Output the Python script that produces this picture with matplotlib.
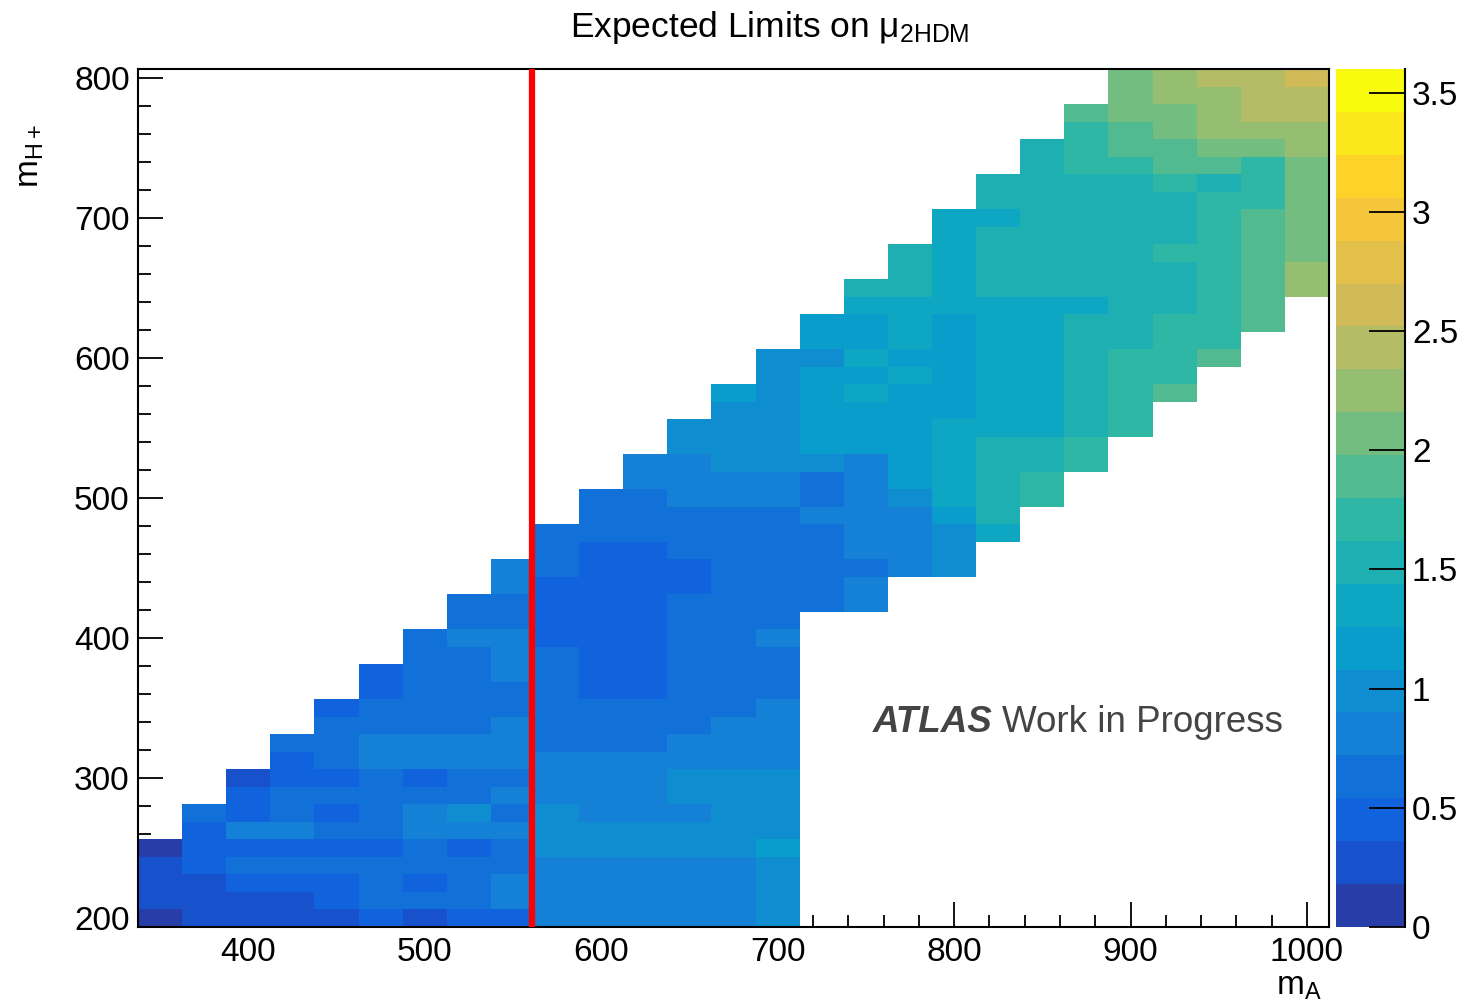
import numpy as np
import matplotlib
matplotlib.use("Agg")
import matplotlib.pyplot as plt
from matplotlib.colors import LinearSegmentedColormap, ListedColormap, BoundaryNorm
from matplotlib.ticker import MultipleLocator, FuncFormatter

plt.rcParams['font.family'] = ['Liberation Sans', 'DejaVu Sans']
plt.rcParams['mathtext.default'] = 'regular'

# m_A bin centres (GeV), one column each
mA = [350, 375, 400, 425, 450, 475, 500, 525, 550, 575, 600, 625, 650, 675,
      700, 725, 750, 775, 800, 825, 850, 875, 900, 925, 950, 975, 1000]
# lowest filled m_H+ bin centre in each column
mH_start = [200, 200, 200, 200, 200, 200, 200, 200, 200, 200, 200, 200, 200, 200,
            200, 425, 425, 450, 450, 475, 500, 525, 550, 575, 600, 625, 650]
# limit band, bottom -> top, one char per 12.5 GeV bin in m_H+
mu_codes = [
    "01110",
    "1112223",
    "112324221",
    "11232433223",
    "1223232323332",
    "233323333443322",
    "13233443244333333",
    "2333245334433333433",
    "244334343444334443344",
    "4444555444333" + "3332222333",
    "4444554444333" + "222222222333",
    "4444554444333" + "22222222233344",
    "4444554554433" + "3333332233344455",
    "4444555554443" + "33333333333" + "44" + "55556",
    "5555655554444" + "3334" + "3333333" + "44" + "5555555",
    "33333433566666566",
    "4434444446667676678",
    "4444566666676777888",
    "555" + "6" + "77777" + "666666" + "777777",
    "7" + "88888" + "77777777" + "8888" + "7" + "88",
    "99" + "88" + "77777777" + "888888888",
    "99" + "8888888" + "7" + "8888888" + "999" + "a",
    "99999" + "888" + "8888888" + "9" + "aa" + "bbb",
    "a" + "9999" + "888" + "9" + "888" + "9" + "aa" + "bb" + "cc",
    "a" + "999999999" + "8" + "a" + "b" + "ccc" + "d",
    "aaaaaaa" + "999" + "b" + "c" + "ddd",
    "cc" + "bbbbbb" + "cc" + "dd" + "e",
]
# mu value at the middle of each colour band
mu_levels = [0.09, 0.27, 0.45, 0.63, 0.81, 0.99, 1.17, 1.35, 1.53, 1.71,
             1.89, 2.07, 2.25, 2.43, 2.61]
mu_ticks = [0, 0.5, 1, 1.5, 2, 2.5, 3, 3.5]
line_mA = 561

# ROOT kBird palette, 20 contours
stops = [0.0, 0.125, 0.25, 0.375, 0.5, 0.625, 0.75, 0.875, 1.0]
red = [0.2082, 0.0592, 0.0780, 0.0232, 0.1802, 0.5301, 0.8186, 0.9956, 0.9764]
green = [0.1664, 0.3599, 0.5041, 0.6419, 0.7178, 0.7492, 0.7328, 0.7862, 0.9832]
blue = [0.5293, 0.8684, 0.8385, 0.7914, 0.6425, 0.4662, 0.3499, 0.1968, 0.0539]
bird = LinearSegmentedColormap.from_list(
    'bird', list(zip(stops, zip(red, green, blue))), N=255)
ncont = 20
cmap = ListedColormap([bird((k + 0.99) / ncont) for k in range(ncont)])
bounds = np.linspace(0, 3.6, ncont + 1)
norm = BoundaryNorm(bounds, ncont)

x_edges = np.arange(337.5, 1012.6, 25)
y_edges = np.arange(193.75, 806.3, 12.5)
Z = np.full((len(y_edges) - 1, len(x_edges) - 1), np.nan)
for i, (start, codes) in enumerate(zip(mH_start, mu_codes)):
    j0 = int(round((start - 200) / 12.5))
    for k, c in enumerate(codes[:len(y_edges) - 1 - j0]):
        Z[j0 + k, i] = mu_levels[int(c, 16)]

fig = plt.figure(figsize=(14.81, 10.02), dpi=100)
ax = fig.add_axes([0.0932, 0.0749, 0.8042, 0.8562])
cax = fig.add_axes([0.9021, 0.0749, 0.0466, 0.8562])

mesh = ax.pcolormesh(x_edges, y_edges, np.ma.masked_invalid(Z), cmap=cmap,
                     norm=norm, shading='flat', antialiased=False, edgecolors='none')
ax.axvline(line_mA, color='#ff0000', lw=4.5, zorder=3)

ax.set_xlim(337.5, 1012.5)
ax.set_ylim(193.75, 806.25)
ax.xaxis.set_major_locator(MultipleLocator(100))
ax.xaxis.set_minor_locator(MultipleLocator(20))
ax.yaxis.set_major_locator(MultipleLocator(100))
ax.yaxis.set_minor_locator(MultipleLocator(20))
ax.set_axisbelow(True)
ax.tick_params(which='both', direction='in', top=False, right=False,
               labelsize=24, colors='black')
ax.tick_params(which='major', length=18, width=1.3)
ax.tick_params(which='minor', length=9, width=1.3)
ax.tick_params(axis='x', pad=7)
ax.tick_params(axis='y', pad=6)
for s in ax.spines.values():
    s.set_linewidth(1.5)

# colour bar
cb = fig.colorbar(mesh, cax=cax)
cb.outline.set_visible(False)
cb.set_ticks(mu_ticks)
cb.ax.yaxis.set_major_formatter(FuncFormatter(lambda v, p: f"{v:g}"))
cb.ax.minorticks_off()
cb.ax.tick_params(direction='in', length=26, width=1.3, labelsize=24, pad=5,
                  right=True, left=False)
cax.plot([1, 1], [0, 1], transform=cax.transAxes, color='black', lw=1.5,
         clip_on=False)

# labels
fig.text(0.52, 1 - 37 / 1002, r"Expected Limits on μ$_{2HDM}$", ha='center',
         va='baseline', fontsize=25.5)
fig.text(1322 / 1481, 1 - 995 / 1002, r"m$_{A}$", ha='right', va='baseline',
         fontsize=24)
fig.text(46 / 1481, 1 - 124 / 1002, r"m$_{H+}$", ha='right', va='top',
         rotation=90, fontsize=24)

atlas = ax.text(754, 333, "ATLAS", fontsize=26.5, fontweight='bold',
                fontstyle='italic', color='#444444', ha='left', va='baseline')
ax.annotate("Work in Progress", xy=(1, 0), xycoords=atlas, xytext=(7, 0),
            textcoords='offset points', fontsize=26.5, color='#444444',
            ha='left', va='bottom')

fig.savefig("out.png", dpi=100)
